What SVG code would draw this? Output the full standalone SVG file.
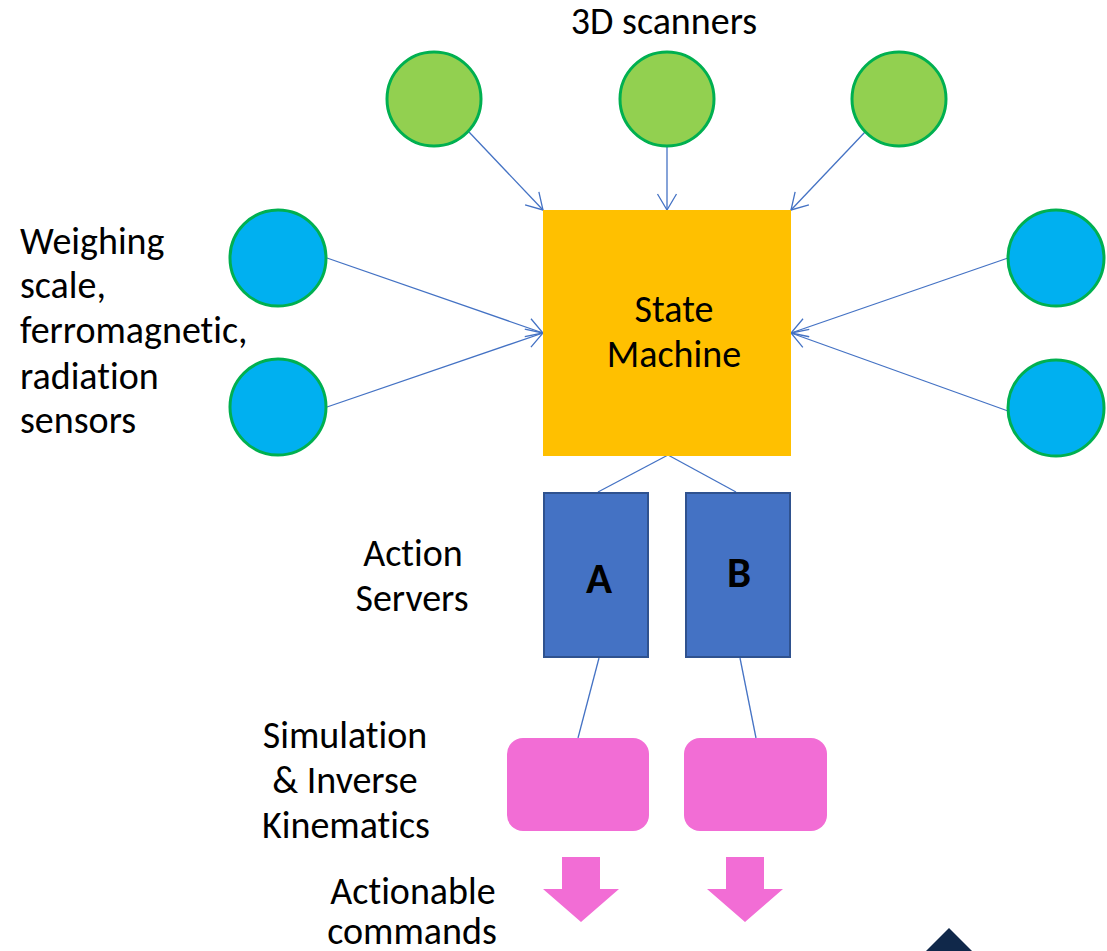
<svg xmlns="http://www.w3.org/2000/svg" width="1107" height="951" viewBox="0 0 1107 951">
<style>
.t{font-family:Carlito,Calibri,Lato,"Noto Sans",sans-serif;font-size:38px;fill:#000;font-variant-ligatures:none}
.c{text-anchor:middle}
.g{fill:#92D050;stroke:#00B050;stroke-width:3}
.b{fill:#00B0F0;stroke:#00B050;stroke-width:3}
.ln{stroke:#4472C4;stroke-width:1.3;fill:none}
.srv{fill:#4472C4;stroke:#2F528F;stroke-width:2}
.pk{fill:#F26DD5}
.lbl{font-family:Carlito,Calibri,Lato,"Noto Sans",sans-serif;font-size:43px;font-weight:900;fill:#000;text-anchor:middle}
</style>
<defs>
<marker id="arr" viewBox="-20 -12 24 24" refX="0" refY="0" markerWidth="24" markerHeight="24" markerUnits="userSpaceOnUse" orient="auto">
<path d="M-16,-9.5 L0,0 L-16,9.5" fill="none" stroke="#4472C4" stroke-width="1.3"/>
</marker>
</defs>
<rect width="1107" height="951" fill="#fff"/>

<g id="connectors">
<line class="ln" x1="469" y1="132" x2="543" y2="210" marker-end="url(#arr)"/>
<line class="ln" x1="667" y1="147" x2="667" y2="210" marker-end="url(#arr)"/>
<line class="ln" x1="865" y1="132" x2="791" y2="210" marker-end="url(#arr)"/>
<line class="ln" x1="327" y1="258" x2="543" y2="333" marker-end="url(#arr)"/>
<line class="ln" x1="327" y1="407" x2="543" y2="333" marker-end="url(#arr)"/>
<line class="ln" x1="1008" y1="258" x2="791" y2="333" marker-end="url(#arr)"/>
<line class="ln" x1="1008" y1="411" x2="791" y2="333" marker-end="url(#arr)"/>
<line class="ln" x1="668" y1="455" x2="598" y2="492"/>
<line class="ln" x1="668" y1="455" x2="736" y2="492"/>
<line class="ln" x1="599" y1="658" x2="578" y2="738"/>
<line class="ln" x1="740" y1="658" x2="756" y2="738"/>
</g>

<g id="scanner1"><circle class="g" cx="434" cy="99" r="47"/></g>
<g id="scanner2"><circle class="g" cx="667" cy="99" r="47"/></g>
<g id="scanner3"><circle class="g" cx="899" cy="99" r="47"/></g>

<g id="sensorL1"><circle class="b" cx="278" cy="258" r="48"/></g>
<g id="sensorL2"><circle class="b" cx="278" cy="407" r="48"/></g>
<g id="sensorR1"><circle class="b" cx="1056" cy="258" r="48"/></g>
<g id="sensorR2"><circle class="b" cx="1056" cy="408" r="48"/></g>

<g id="stateMachine">
<rect x="543" y="210" width="248" height="246" fill="#FFC000"/>
<text class="t c" x="674" y="322">State</text>
<text class="t c" x="674" y="367">Machine</text>
</g>

<g id="serverA">
<rect class="srv" x="544" y="493" width="104" height="164"/>
<text class="lbl" x="599" y="593">A</text>
</g>
<g id="serverB">
<rect class="srv" x="686" y="493" width="104" height="164"/>
<text class="lbl" x="739" y="587">B</text>
</g>

<g id="simA"><rect class="pk" x="507" y="738" width="142" height="93" rx="16"/></g>
<g id="simB"><rect class="pk" x="684" y="738" width="143" height="93" rx="16"/></g>

<g id="cmdA"><polygon class="pk" points="562,857 600,857 600,889 619,889 581,922 543,889 562,889"/></g>
<g id="cmdB"><polygon class="pk" points="726,857 764,857 764,889 783,889 745,922 707,889 726,889"/></g>

<polygon points="949,928 972,951 926,951" fill="#10284A"/>

<g id="labels">
<text class="t c" x="664" y="34">3D scanners</text>
<text class="t" x="20" y="254">Weighing</text>
<text class="t" x="20" y="298">scale,</text>
<text class="t" x="20" y="343">ferromagnetic,</text>
<text class="t" x="20" y="389">radiation</text>
<text class="t" x="20" y="433">sensors</text>
<text class="t c" x="413" y="566">Action</text>
<text class="t c" x="412" y="611">Servers</text>
<text class="t c" x="345" y="748">Simulation</text>
<text class="t c" x="345" y="793">&amp; Inverse</text>
<text class="t c" x="346" y="838">Kinematics</text>
<text class="t c" x="413" y="904">Actionable</text>
<text class="t c" x="412" y="944">commands</text>
</g>
</svg>
